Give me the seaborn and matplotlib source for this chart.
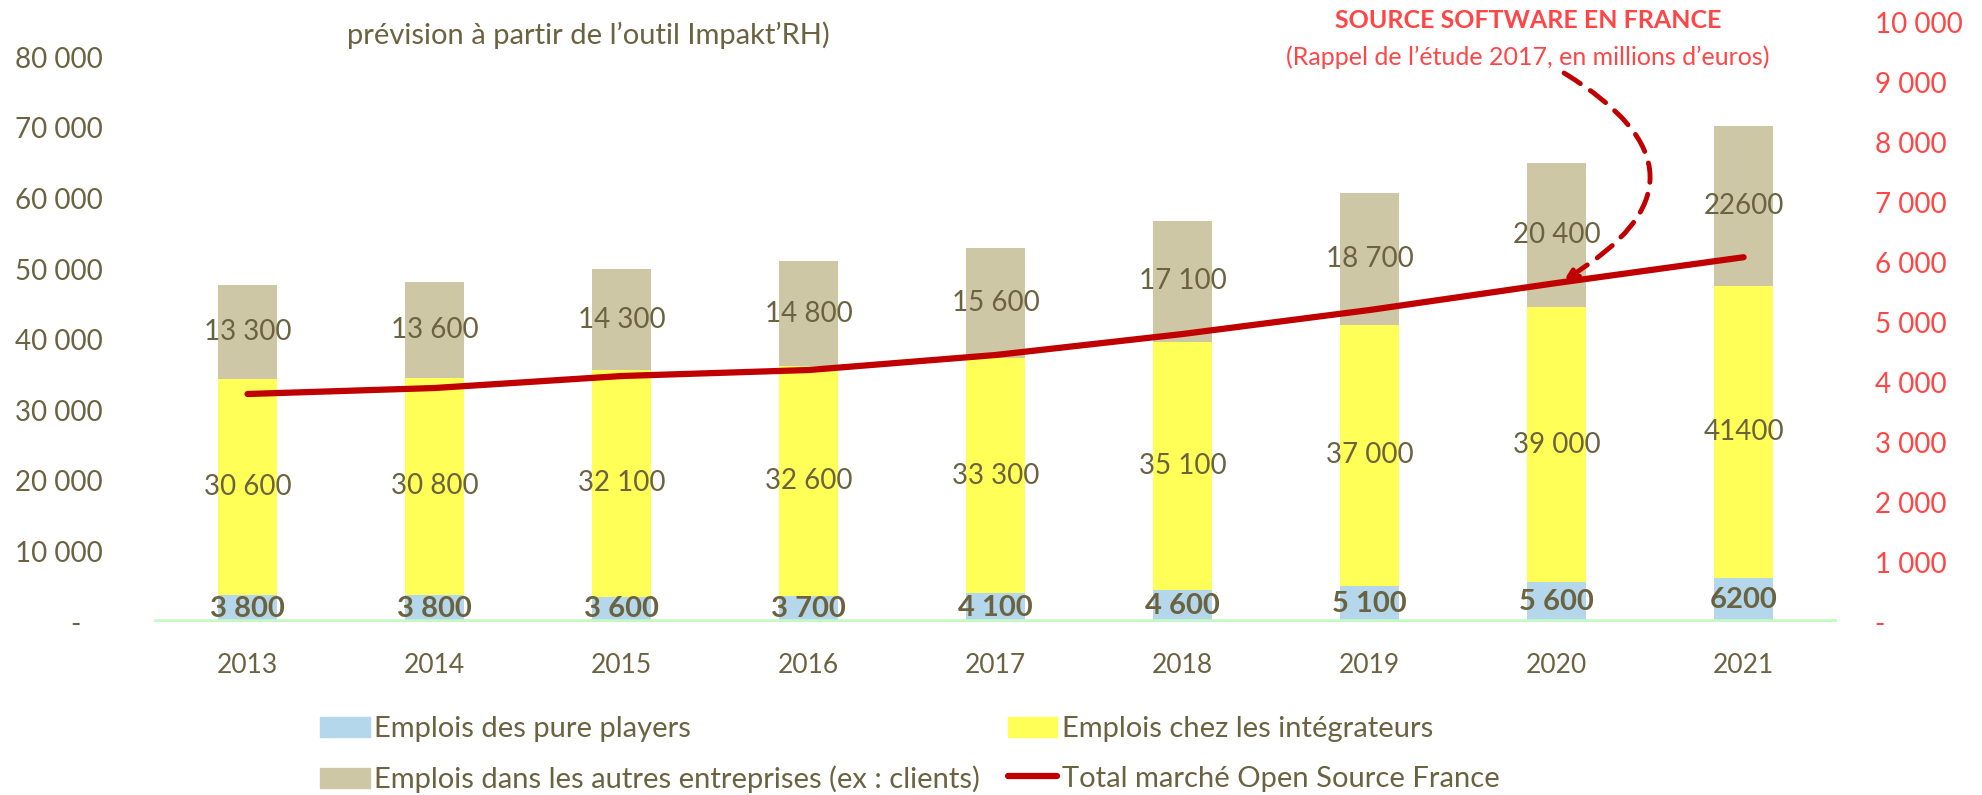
import numpy as np
import pandas as pd
import seaborn as sns
import matplotlib.pyplot as plt
from matplotlib.patches import Patch
from matplotlib.lines import Line2D
from matplotlib.ticker import FuncFormatter

# données
annees = ["2013", "2014", "2015", "2016", "2017", "2018", "2019", "2020", "2021"]
pure_players = [3800, 3800, 3600, 3700, 4100, 4600, 5100, 5600, 6200]
integrateurs = [30600, 30800, 32100, 32600, 33300, 35100, 37000, 39000, 41400]
autres = [13300, 13600, 14300, 14800, 15600, 17100, 18700, 20400, 22600]
marche_os = [3800, 3900, 4100, 4200, 4450, 4800, 5200, 5650, 6080]
annees_sans_espace = ["2021"]

lib_pure = "Emplois des pure players"
lib_integ = "Emplois chez les intégrateurs"
lib_autres = "Emplois dans les autres entreprises (ex : clients)"
lib_marche = "Total marché Open Source France"

C_TXT = "#6B6240"
C_BLUE = "#B4D7EB"
C_YEL = "#FFFF57"
C_TAN = "#CEC7A5"
C_RED = "#FF4646"
C_LINE = "#C00000"
C_GREEN = "#C4F9C4"

sns.set_style("white")
plt.rcParams['font.family'] = ['Lato', 'DejaVu Sans']

df = pd.DataFrame({"annee": annees, "pure": pure_players, "integ": integrateurs,
                   "autres": autres, "marche": marche_os})
df["haut_integ"] = df["pure"] + df["integ"]
df["total"] = df["haut_integ"] + df["autres"]

fig = plt.figure(figsize=(19.82, 7.95), dpi=100)
ax = fig.add_axes([0.0777, 0.2176, 0.8492, 0.7547])

# barres empilées : on trace le cumul, du plus haut au plus bas
sns.barplot(data=df, x="annee", y="total", color=C_TAN, saturation=1, width=0.315, linewidth=0, ax=ax)
sns.barplot(data=df, x="annee", y="haut_integ", color=C_YEL, saturation=1, width=0.315, linewidth=0, ax=ax)
sns.barplot(data=df, x="annee", y="pure", color=C_BLUE, saturation=1, width=0.315, linewidth=0, ax=ax)
ax.axhline(0, color=C_GREEN, lw=4, zorder=5)

def fmt(v, annee):
    if annee in annees_sans_espace:
        return str(v)
    return f"{v:,}".replace(",", " ")

for i, r in df.iterrows():
    ax.text(i, r["pure"] / 2, fmt(r["pure"], r["annee"]), ha="center", va="center",
            fontsize=21, fontweight="bold", color=C_TXT)
    ax.text(i, r["pure"] + r["integ"] / 2, fmt(r["integ"], r["annee"]), ha="center", va="center",
            fontsize=20, color=C_TXT)
    ax.text(i, r["haut_integ"] + r["autres"] / 2, fmt(r["autres"], r["annee"]), ha="center", va="center",
            fontsize=20, color=C_TXT)

ax.set_ylim(0, 85000)
ax.set_yticks(range(0, 80001, 10000))
milliers = FuncFormatter(lambda v, p: "-   " if v == 0 else f"{int(v):,}".replace(",", " "))
ax.yaxis.set_major_formatter(milliers)
ax.tick_params(axis="y", length=0, pad=37, labelsize=20, labelcolor=C_TXT)
ax.tick_params(axis="x", length=0, pad=22, labelsize=19, labelcolor=C_TXT)
ax.set_xlabel("")
ax.set_ylabel("")
sns.despine(ax=ax, left=True, bottom=True)

# axe secondaire : marché
ax2 = ax.twinx()
sns.lineplot(x=np.arange(len(annees)), y=df["marche"], color=C_LINE, lw=4.5, ax=ax2)
ax2.set_xlim(-0.5, len(annees) - 0.5)
ax2.set_ylim(0, 10000)
ax2.set_yticks(range(0, 10001, 1000))
ax2.yaxis.set_major_formatter(FuncFormatter(lambda v, p: "-" if v == 0 else f"{int(v):,}".replace(",", " ")))
ax2.tick_params(axis="y", length=0, pad=27, labelsize=20, labelcolor=C_RED)
ax2.set_ylabel("")
sns.despine(ax=ax2, left=True, bottom=True, right=True)

ax2.annotate("", xy=(7.04, 5700), xytext=(7.04, 9150),
             arrowprops=dict(arrowstyle="->,head_length=0.7,head_width=0.35", color=C_LINE, lw=3.5,
                             linestyle=(0, (4, 2.5)), connectionstyle="arc3,rad=-0.82",
                             shrinkA=0, shrinkB=0))

fig.text(0.771, 0.9736, "SOURCE SOFTWARE EN FRANCE", ha="center", va="center",
         fontsize=18, fontweight="bold", color=C_RED)
fig.text(0.771, 0.928, "(Rappel de l’étude 2017, en millions d’euros)", ha="center", va="center",
         fontsize=18, color=C_RED)
fig.text(0.2967, 0.956, "prévision à partir de l’outil Impakt’RH)", ha="center", va="center",
         fontsize=21, color=C_TXT)

poignees = [Patch(color=C_BLUE, label=lib_pure), Patch(color=C_TAN, label=lib_autres),
            Patch(color=C_YEL, label=lib_integ), Line2D([], [], color=C_LINE, lw=4.5, label=lib_marche)]
fig.legend(handles=poignees, ncol=2, loc="upper left", bbox_to_anchor=(0.1615, 0.099),
           frameon=False, fontsize=21, handlelength=1.7, handletextpad=0.15, columnspacing=0.95,
           borderpad=0, borderaxespad=0, labelcolor=C_TXT, labelspacing=0.8)

fig.savefig("out.png", dpi=100)
